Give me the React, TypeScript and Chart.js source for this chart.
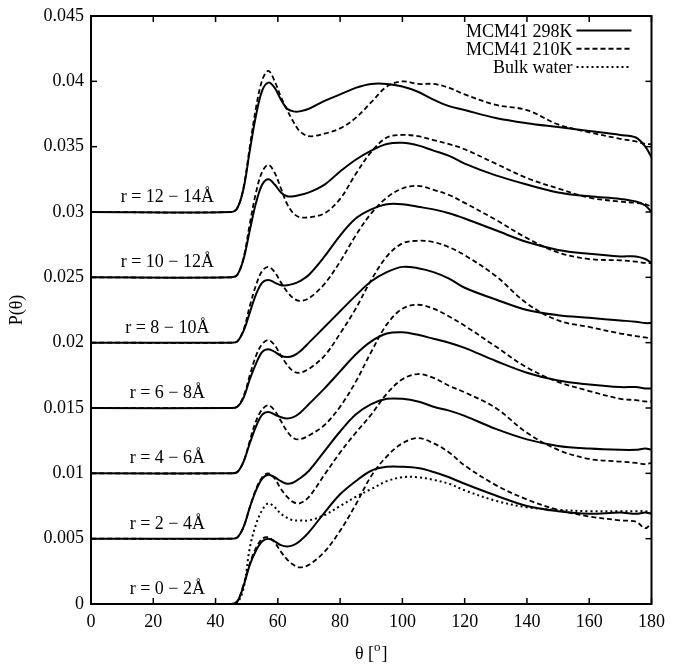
import React, { useEffect, useRef } from 'react';
import { Chart, registerables } from 'chart.js';

Chart.register(...registerables);

// angle grid (degrees)
const THETA = [0, 45, 47, 49, 51, 53, 55, 57, 59, 61, 63, 65, 67, 70, 75, 80, 85, 90, 95, 100, 105, 110, 115, 120, 130, 140, 150, 160, 170, 175, 178, 180];

// MCM41 298K (solid), shifted curves for each shell
const R0_298 = [0, 0, 0.0002, 0.0014, 0.0030, 0.0041, 0.0048, 0.0050, 0.0048, 0.0045, 0.0044, 0.0045, 0.0048, 0.0055, 0.0070, 0.0084, 0.0094, 0.0102, 0.0105, 0.0105, 0.0104, 0.0101, 0.0097, 0.0092, 0.0083, 0.0075, 0.0071, 0.0069, 0.0070, 0.0069, 0.0070, 0.0069];
const R1_298 = [0.005, 0.005, 0.0051, 0.0059, 0.0074, 0.0087, 0.0096, 0.0099, 0.0097, 0.0094, 0.0092, 0.0093, 0.0096, 0.0102, 0.0117, 0.0132, 0.0145, 0.0153, 0.0157, 0.0157, 0.0155, 0.0151, 0.0148, 0.0144, 0.0134, 0.0126, 0.0121, 0.0119, 0.0118, 0.0118, 0.0119, 0.0118];
const R2_298 = [0.010, 0.010, 0.0101, 0.0109, 0.0123, 0.0136, 0.0145, 0.0147, 0.0145, 0.0143, 0.0142, 0.0143, 0.0146, 0.0153, 0.0165, 0.0178, 0.0191, 0.0201, 0.0207, 0.0208, 0.0206, 0.0203, 0.0200, 0.0196, 0.0186, 0.0177, 0.0171, 0.0168, 0.0166, 0.0166, 0.0165, 0.0165];
const R3_298 = [0.015, 0.015, 0.0151, 0.0158, 0.0172, 0.0184, 0.0193, 0.0195, 0.0193, 0.0190, 0.0189, 0.0190, 0.0193, 0.0200, 0.0212, 0.0224, 0.0236, 0.0247, 0.0254, 0.0258, 0.0257, 0.0254, 0.0249, 0.0242, 0.0233, 0.0225, 0.0221, 0.0219, 0.0217, 0.0216, 0.0215, 0.0215];
const R4_298 = [0.020, 0.020, 0.0201, 0.0209, 0.0223, 0.0237, 0.0246, 0.0248, 0.0246, 0.0244, 0.0244, 0.0245, 0.0247, 0.0252, 0.0266, 0.0282, 0.0295, 0.0302, 0.0306, 0.0306, 0.0304, 0.0302, 0.0299, 0.0295, 0.0286, 0.0277, 0.0271, 0.0268, 0.0266, 0.0266, 0.0264, 0.0261];
const R5_298 = [0.025, 0.025, 0.0252, 0.0264, 0.0286, 0.0307, 0.0321, 0.0325, 0.0321, 0.0315, 0.0312, 0.0312, 0.0313, 0.0315, 0.0321, 0.0331, 0.0340, 0.0347, 0.0352, 0.0353, 0.0351, 0.0347, 0.0343, 0.0337, 0.0328, 0.0321, 0.0315, 0.0312, 0.0310, 0.0308, 0.0305, 0.0300];
const R6_298 = [0.030, 0.030, 0.0303, 0.0318, 0.0347, 0.0374, 0.0393, 0.0399, 0.0395, 0.0386, 0.0379, 0.0377, 0.0377, 0.0379, 0.0385, 0.0390, 0.0395, 0.0398, 0.0398, 0.0396, 0.0392, 0.0386, 0.0381, 0.0378, 0.0372, 0.0368, 0.0365, 0.0362, 0.0359, 0.0357, 0.0350, 0.0342];

// MCM41 210K (dashed)
const R0_210 = [0, 0, 0.0002, 0.0015, 0.0031, 0.0043, 0.0050, 0.0051, 0.0047, 0.0040, 0.0034, 0.0030, 0.0028, 0.0030, 0.0040, 0.0056, 0.0076, 0.0098, 0.0113, 0.0123, 0.0127, 0.0123, 0.0116, 0.0106, 0.0091, 0.0080, 0.0072, 0.0067, 0.0064, 0.0063, 0.0058, 0.0062];
const R1_210 = [0.005, 0.005, 0.0051, 0.0059, 0.0074, 0.0088, 0.0097, 0.0100, 0.0096, 0.0088, 0.0082, 0.0078, 0.0077, 0.0082, 0.0099, 0.0116, 0.0131, 0.0145, 0.0161, 0.0172, 0.0176, 0.0173, 0.0167, 0.0162, 0.0150, 0.0131, 0.0118, 0.0111, 0.0109, 0.0108, 0.0107, 0.0108];
const R2_210 = [0.010, 0.010, 0.0101, 0.0109, 0.0125, 0.0140, 0.0149, 0.0152, 0.0148, 0.0140, 0.0132, 0.0127, 0.0126, 0.0129, 0.0137, 0.0151, 0.0170, 0.0193, 0.0214, 0.0226, 0.0229, 0.0226, 0.0220, 0.0213, 0.0197, 0.0181, 0.0170, 0.0163, 0.0157, 0.0156, 0.0155, 0.0155];
const R3_210 = [0.015, 0.015, 0.0151, 0.0159, 0.0175, 0.0190, 0.0199, 0.0202, 0.0198, 0.0190, 0.0183, 0.0178, 0.0177, 0.0180, 0.0190, 0.0207, 0.0226, 0.0248, 0.0266, 0.0276, 0.0278, 0.0277, 0.0273, 0.0267, 0.0251, 0.0230, 0.0217, 0.0212, 0.0207, 0.0205, 0.0204, 0.0203];
const R4_210 = [0.020, 0.020, 0.0201, 0.0210, 0.0228, 0.0244, 0.0255, 0.0258, 0.0254, 0.0246, 0.0239, 0.0234, 0.0232, 0.0234, 0.0245, 0.0262, 0.0282, 0.0299, 0.0311, 0.0318, 0.0320, 0.0317, 0.0313, 0.0307, 0.0294, 0.0280, 0.0269, 0.0264, 0.0263, 0.0262, 0.0261, 0.0261];
const R5_210 = [0.025, 0.025, 0.0252, 0.0265, 0.0291, 0.0315, 0.0331, 0.0336, 0.0330, 0.0318, 0.0306, 0.0299, 0.0296, 0.0296, 0.0299, 0.0310, 0.0329, 0.0346, 0.0357, 0.0359, 0.0358, 0.0355, 0.0352, 0.0348, 0.0337, 0.0326, 0.0318, 0.0311, 0.0308, 0.0307, 0.0306, 0.0304];
const R6_210 = [0.030, 0.030, 0.0303, 0.0319, 0.0350, 0.0380, 0.0401, 0.0408, 0.0400, 0.0388, 0.0378, 0.0369, 0.0362, 0.0358, 0.0360, 0.0364, 0.0372, 0.0384, 0.0396, 0.0400, 0.0398, 0.0398, 0.0395, 0.0390, 0.0382, 0.0378, 0.0367, 0.0361, 0.0356, 0.0354, 0.0352, 0.0352];

// Bulk water (dotted, unshifted)
const BULK = [0, 0, 0.0001, 0.0012, 0.0043, 0.0061, 0.0072, 0.0077, 0.0074, 0.0069, 0.0066, 0.0064, 0.0064, 0.0064, 0.0068, 0.0075, 0.0082, 0.0088, 0.0094, 0.0097, 0.0097, 0.0095, 0.0092, 0.0087, 0.0079, 0.0074, 0.0072, 0.0071, 0.0071, 0.0071, 0.0071, 0.0070];

const SERIES_298 = [R0_298, R1_298, R2_298, R3_298, R4_298, R5_298, R6_298];
const SERIES_210 = [R0_210, R1_210, R2_210, R3_210, R4_210, R5_210, R6_210];
const SHELL_OFFSETS = [0, 0.005, 0.01, 0.015, 0.02, 0.025, 0.03];
const SHELL_LABELS = ['r = 0 − 2Å', 'r = 2 − 4Å', 'r = 4 − 6Å', 'r = 6 − 8Å', 'r = 8 − 10Å', 'r = 10 − 12Å', 'r = 12 − 14Å'];
const LEGEND_LABELS = ['MCM41 298K', 'MCM41 210K', 'Bulk water'];
const LABEL_THETA = 24.5;

const FONT = "'Liberation Serif', 'Times New Roman', Times, serif";
const DASH_210 = [5, 3];
const DOT_BULK = [2, 3];
const TENSION = 0.35;

const toPts = (arr: number[]) => THETA.map((t, i) => ({ x: t, y: arr[i] }));

const overlay = {
  id: 'overlay',
  afterDraw(chart: any) {
    const { ctx, chartArea: a, scales } = chart;
    const xs = scales.x;
    const ys = scales.y;
    const line = (x1: number, y1: number, x2: number, y2: number) => {
      ctx.beginPath();
      ctx.moveTo(x1, y1);
      ctx.lineTo(x2, y2);
      ctx.stroke();
    };
    ctx.save();
    ctx.strokeStyle = '#000';
    ctx.fillStyle = '#000';
    ctx.setLineDash([]);
    // frame
    ctx.lineWidth = 2;
    ctx.strokeRect(a.left, a.top, a.right - a.left, a.bottom - a.top);
    // inward ticks
    const TL = 6;
    ctx.lineWidth = 1.5;
    xs.ticks.forEach((t: any) => {
      const px = xs.getPixelForValue(t.value);
      line(px, a.bottom, px, a.bottom - TL);
      line(px, a.top, px, a.top + TL);
    });
    ys.ticks.forEach((t: any) => {
      const py = ys.getPixelForValue(t.value);
      line(a.left, py, a.left + TL, py);
      line(a.right, py, a.right - TL, py);
    });
    // shell labels
    ctx.font = `18px ${FONT}`;
    ctx.textAlign = 'center';
    ctx.textBaseline = 'alphabetic';
    SHELL_LABELS.forEach((lab, k) => {
      const px = xs.getPixelForValue(LABEL_THETA);
      const py = ys.getPixelForValue(SHELL_OFFSETS[k]) - 10;
      ctx.fillText(lab, px, py);
    });
    // legend
    const dashes = [[], DASH_210, DOT_BULK];
    LEGEND_LABELS.forEach((lab, i) => {
      const yy = a.top + 20.5 + i * 18.3;
      ctx.setLineDash([]);
      ctx.textAlign = 'right';
      ctx.fillText(lab, a.right - 79, yy);
      ctx.setLineDash(dashes[i]);
      ctx.lineWidth = 2;
      line(a.right - 75, yy - 6, a.right - 20, yy - 6);
    });
    ctx.setLineDash([]);
    // x-axis title with superscript
    const cx = (a.left + a.right) / 2;
    const base = a.bottom + 55;
    ctx.font = `18px ${FONT}`;
    const p1 = 'θ [';
    const p3 = ']';
    const w1 = ctx.measureText(p1).width;
    const w3 = ctx.measureText(p3).width;
    ctx.font = `13px ${FONT}`;
    const w2 = ctx.measureText('o').width + 1;
    const start = cx - (w1 + w2 + w3) / 2;
    ctx.textAlign = 'left';
    ctx.font = `18px ${FONT}`;
    ctx.fillText(p1, start, base);
    ctx.font = `13px ${FONT}`;
    ctx.fillText('o', start + w1, base - 8);
    ctx.font = `18px ${FONT}`;
    ctx.fillText(p3, start + w1 + w2, base);
    ctx.restore();
  },
};

export default function App() {
  const ref = useRef<HTMLCanvasElement | null>(null);
  useEffect(() => {
    if (!ref.current) return;
    const datasets: any[] = [];
    SERIES_298.forEach((s, k) => {
      datasets.push({
        label: k === 0 ? LEGEND_LABELS[0] : '',
        data: toPts(s),
        borderColor: '#000',
        borderWidth: 2,
        pointRadius: 0,
        tension: TENSION,
        fill: false,
      });
    });
    SERIES_210.forEach((s, k) => {
      datasets.push({
        label: k === 0 ? LEGEND_LABELS[1] : '',
        data: toPts(s),
        borderColor: '#000',
        borderWidth: 1.8,
        borderDash: DASH_210,
        pointRadius: 0,
        tension: TENSION,
        fill: false,
      });
    });
    datasets.push({
      label: LEGEND_LABELS[2],
      data: toPts(BULK),
      borderColor: '#000',
      borderWidth: 2,
      borderDash: DOT_BULK,
      pointRadius: 0,
      tension: TENSION,
      fill: false,
    });
    const chart = new Chart(ref.current, {
      type: 'line',
      data: { datasets },
      plugins: [overlay],
      options: {
        animation: false,
        responsive: false,
        devicePixelRatio: 1,
        layout: { padding: { top: 10, right: 19, left: 0, bottom: 0 } },
        plugins: { legend: { display: false }, tooltip: { enabled: false } },
        scales: {
          x: {
            type: 'linear',
            min: 0,
            max: 180,
            ticks: {
              stepSize: 20,
              color: '#000',
              padding: 9,
              maxRotation: 0,
              font: { family: FONT, size: 18, lineHeight: 1 },
            },
            grid: { display: false, drawTicks: false },
            border: { display: false },
            afterFit: (s: any) => { s.height = 61; },
          },
          y: {
            type: 'linear',
            min: 0,
            max: 0.045,
            ticks: {
              stepSize: 0.005,
              color: '#000',
              padding: 7,
              font: { family: FONT, size: 18, lineHeight: 1 },
              callback: (v: any) => String(Number(Number(v).toFixed(3))),
            },
            grid: { display: false, drawTicks: false },
            border: { display: false },
            title: {
              display: true,
              text: 'P(θ)',
              color: '#000',
              font: { family: FONT, size: 18, lineHeight: 1.2 },
              padding: { top: 6, bottom: 0 },
            },
            afterFit: (s: any) => { s.width = 91; },
          },
        },
      } as any,
    });
    return () => chart.destroy();
  }, []);
  return (
    <div style={{ position: 'absolute', left: 0, top: 0, width: 674, height: 665, background: '#fff' }}>
      <canvas ref={ref} width={674} height={665} style={{ width: 674, height: 665 }} />
    </div>
  );
}
